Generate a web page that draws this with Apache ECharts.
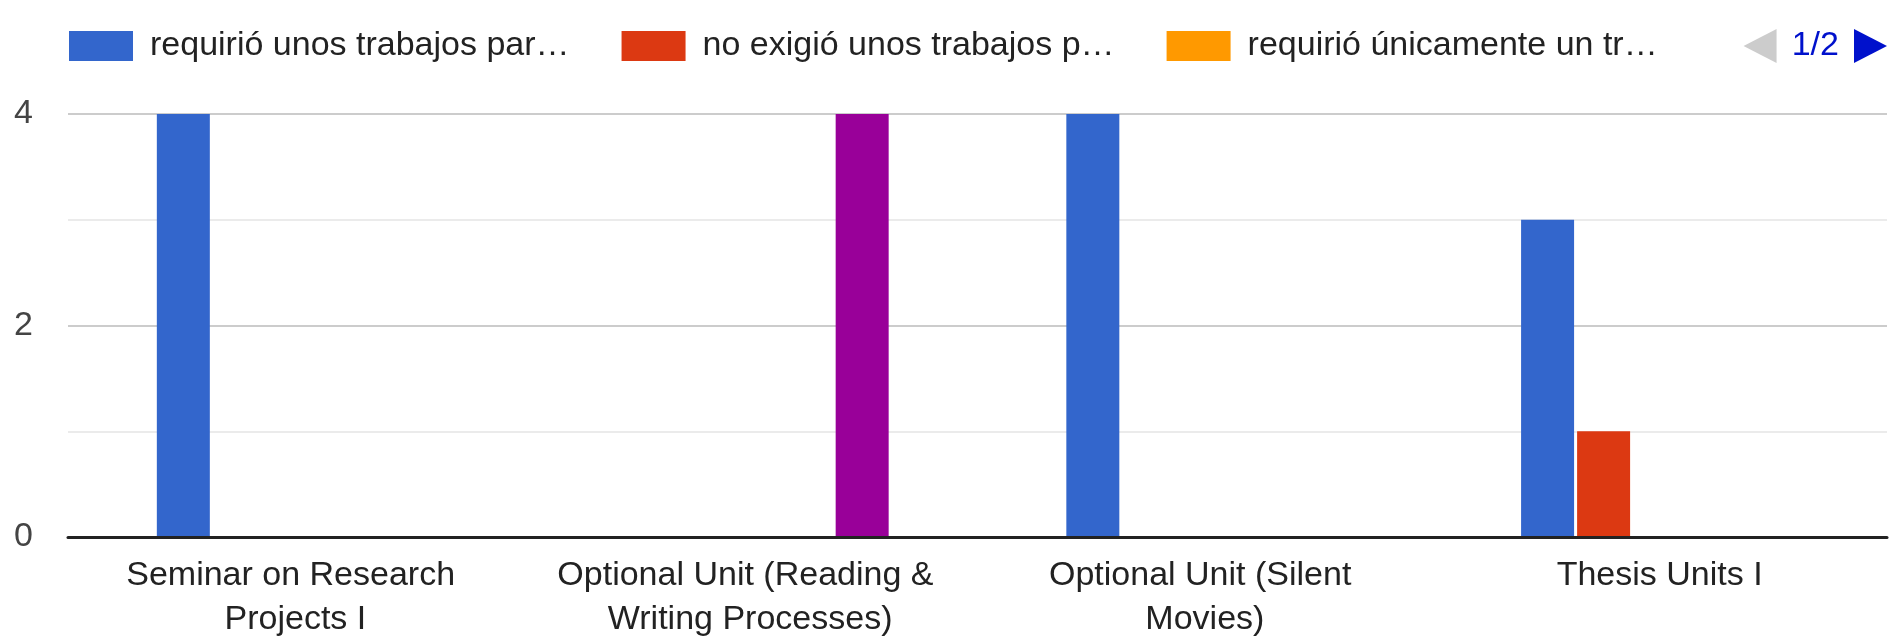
<!DOCTYPE html>
<html>
<head>
<meta charset="utf-8" />
<title>Trabajos por asignatura</title>
<script src="https://cdn.jsdelivr.net/npm/echarts@6/dist/echarts.min.js"></script>
<style>
  html, body { margin: 0; padding: 0; background: #fff; }
  #chart { width: 1896px; height: 643px; }
</style>
</head>
<body>
<div id="chart"></div>
<script>
// categorías del eje x
const categories = [
  'Seminar on Research Projects I',
  'Optional Unit (Reading & Writing Processes)',
  'Optional Unit (Silent Movies)',
  'Thesis Units I'
]

// nombres de las series tal como salen en la leyenda (recortados)
const seriesNames = [
  'requirió unos trabajos par…',
  'no exigió unos trabajos p…',
  'requirió únicamente un tr…',
  'otra respuesta 1',
  'otra respuesta 2'
]

// valores por serie
const requirioTrabajos = [4, 0, 4, 3]
const noExigioTrabajos = [0, 0, 0, 1]
const requirioUnTrabajo = [0, 0, 0, 0]
const otraRespuesta1 = [0, 0, 0, 0]
const otraRespuesta2 = [0, 4, 0, 0]

const seriesValues = [requirioTrabajos, noExigioTrabajos, requirioUnTrabajo, otraRespuesta1, otraRespuesta2]
const colors = ['#3366cc', '#dc3912', '#ff9900', '#109618', '#990099']

const FONT = 'Arial, "Liberation Sans", sans-serif'

const myChart = echarts.init(document.getElementById('chart'))

myChart.setOption({
  animation: false,
  backgroundColor: '#ffffff',
  color: colors,
  textStyle: { fontFamily: FONT },
  legend: {
    type: 'scroll',
    orient: 'horizontal',
    left: 69,
    width: 1818,
    top: 29,
    padding: 0,
    icon: 'rect',
    itemWidth: 64,
    itemHeight: 30,
    itemGap: 52,
    selectedMode: false,
    textStyle: {
      fontSize: 34,
      color: '#222',
      fontFamily: FONT,
      padding: [0, 0, 0, 12]
    },
    pageButtonPosition: 'end',
    pageButtonItemGap: 0,
    // flechas casi cuadradas como en el gráfico original
    pageIcons: {
      horizontal: ['path://M0,17L33,0L33,34Z', 'path://M33,17L0,0L0,34Z']
    },
    pageIconSize: [33, 34],
    pageIconColor: '#0011cc',
    pageIconInactiveColor: '#cccccc',
    pageTextStyle: { color: '#0011cc', fontSize: 34, fontFamily: FONT },
    data: seriesNames
  },
  grid: {
    left: 68,
    right: 9,
    top: 114,
    bottom: 106,
    containLabel: false
  },
  xAxis: {
    type: 'category',
    data: categories,
    axisTick: { show: false },
    axisLine: { lineStyle: { color: '#222', width: 3 } },
    axisLabel: {
      interval: 0,
      margin: 17,
      fontSize: 34,
      lineHeight: 44,
      color: '#222',
      width: 400,
      overflow: 'break'
    },
    z: 5
  },
  yAxis: {
    type: 'value',
    min: 0,
    max: 4,
    interval: 2,
    axisLine: { show: false },
    axisTick: { show: false },
    axisLabel: { margin: 35, fontSize: 34, color: '#444' },
    splitLine: { lineStyle: { color: '#cccccc', width: 2 } },
    minorTick: { show: false, splitNumber: 2 },
    minorSplitLine: { show: true, lineStyle: { color: '#ebebeb', width: 2 } }
  },
  series: seriesNames.map((name, i) => ({
    name,
    type: 'bar',
    data: seriesValues[i],
    barWidth: 53,
    barGap: '5.7%'
  }))
})
</script>
</body>
</html>
